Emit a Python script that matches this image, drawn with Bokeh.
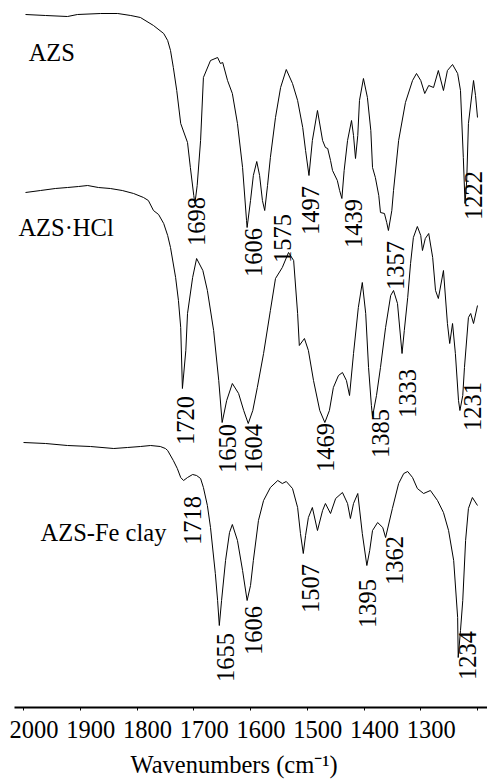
import numpy as np
from bokeh.plotting import figure
from bokeh.models import Range1d, LinearAxis, FixedTicker, Title, ColumnDataSource
from bokeh.core.properties import value
from bokeh.embed import file_html
from bokeh.resources import INLINE

# ---------------- data (wavenumber, transmittance in arbitrary offset units) ----------------
azs_wn = [1996.5, 1961, 1922.5, 1905, 1864, 1834, 1811, 1794, 1771, 1753, 1746, 1741, 1736, 1730,
          1723, 1711, 1706, 1700, 1698, 1694, 1688, 1683, 1670.5, 1658, 1653, 1649, 1640.5, 1632,
          1623, 1614, 1607, 1606, 1600, 1595, 1589, 1584, 1579, 1575, 1570, 1565, 1556, 1547,
          1537, 1526, 1517, 1508, 1503, 1497, 1491, 1482, 1473, 1468, 1464, 1459, 1455.5, 1447,
          1443, 1439, 1435, 1429, 1422, 1418.5, 1415, 1411, 1408, 1401, 1394, 1388, 1385, 1380,
          1374, 1371, 1364, 1360, 1357, 1351, 1348, 1339, 1327, 1314.5, 1307.5, 1300, 1293, 1286,
          1277.5, 1269, 1260, 1253, 1244, 1235, 1230, 1225, 1222, 1219, 1216, 1207, 1203.5, 1200]
azs_t = [693, 692, 691, 693, 694, 694, 692, 690, 682, 674, 667, 657, 640, 617,
         584, 565, 540, 512, 504, 522, 567, 630, 647, 650, 644, 645, 627, 614,
         584, 540, 487, 480, 507, 532, 546, 532, 507, 497, 522, 550, 590, 620,
         638, 624, 607, 580, 557, 532, 567, 597, 567, 560, 559, 547, 537, 527,
         517, 509, 537, 567, 587, 572, 549, 572, 607, 629, 610, 577, 540, 530,
         512, 495, 494, 485, 477, 497, 517, 567, 605, 627, 634, 627, 614, 622,
         620, 637, 617, 637, 643, 634, 617, 550, 504, 527, 584, 627, 612, 590]

hcl_wn = [1996.5, 1970, 1944, 1922.5, 1903, 1887, 1868, 1847, 1826, 1806, 1788.5, 1780, 1771, 1762,
          1753, 1746, 1741, 1732, 1727, 1723, 1720, 1714, 1711, 1702, 1695, 1684, 1676, 1665,
          1656, 1650, 1642, 1632, 1621, 1612, 1604, 1596, 1588, 1577, 1565, 1556, 1544, 1533,
          1524, 1517, 1514, 1505, 1498, 1489, 1478, 1469, 1461, 1454, 1445, 1438, 1431, 1425.5,
          1418.5, 1410, 1403, 1397, 1392, 1387, 1385, 1378, 1371, 1362, 1353, 1348, 1341, 1333,
          1329, 1323, 1318, 1313, 1306, 1300, 1297, 1292, 1286, 1279, 1274, 1269, 1260, 1253,
          1249, 1244, 1239, 1233.5, 1231, 1226, 1223, 1216, 1212, 1207, 1200]
hcl_t = [515, 517, 519, 520, 521, 522, 520, 519, 517, 514, 510, 507, 497, 493,
         484, 472, 460, 430, 407, 380, 319, 357, 394, 430, 449, 437, 417, 377,
         327, 285, 307, 324, 314, 297, 284, 297, 320, 354, 397, 429, 440, 455,
         447, 394, 362, 369, 357, 327, 297, 285, 297, 320, 332, 335, 327, 312,
         354, 400, 425, 394, 340, 302, 291, 312, 340, 380, 412, 417, 404, 354,
         377, 410, 444, 470, 481, 472, 457, 469, 474, 450, 417, 409, 437, 384,
         364, 384, 354, 307, 297, 312, 340, 390, 394, 384, 402]

fe_wn = [2000, 1961, 1922.5, 1882, 1841, 1817, 1794, 1776, 1759, 1750, 1746, 1736, 1729, 1723,
         1718, 1711, 1702, 1695, 1688, 1683, 1676, 1670.5, 1662, 1658, 1655, 1651, 1644, 1637,
         1632, 1623, 1614, 1606, 1600, 1595, 1586, 1577, 1565, 1552, 1544, 1537, 1526, 1517,
         1512, 1507, 1503, 1498, 1491, 1482, 1473, 1468, 1459, 1450, 1438, 1429, 1424, 1418.5,
         1411, 1403, 1395, 1390, 1385, 1376, 1367, 1362, 1350, 1339, 1330, 1323, 1314.5, 1306,
         1295, 1283, 1270.5, 1260, 1251, 1242, 1235, 1234, 1230, 1226, 1221, 1216, 1209, 1200]
fe_t = [265, 264, 262, 261, 259, 260, 261, 262, 261, 259, 257, 247, 239, 230,
        227, 230, 233, 232, 229, 220, 202, 180, 134, 107, 82, 107, 147, 175,
        183, 167, 137, 107, 122, 147, 187, 207, 220, 227, 224, 226, 219, 200,
        174, 154, 172, 190, 200, 177, 197, 204, 194, 209, 215, 204, 189, 204,
        214, 174, 142, 157, 177, 185, 180, 170, 199, 224, 234, 236, 230, 219,
        214, 217, 207, 195, 177, 147, 90, 50, 77, 107, 167, 199, 210, 202]

# peak annotations: text, and placement (wavenumber, transmittance units)
azs_peaks = ["1698", "1606", "1575", "1497", "1439", "1357", "1222"]
azs_peak_x = [1695, 1595, 1544, 1494, 1418.5, 1344.5, 1207]
azs_peak_y = [486, 455, 469, 497, 484, 442, 512]

hcl_peaks = ["1720", "1650", "1604", "1469", "1385", "1333", "1231"]
hcl_peak_x = [1714.5, 1640.5, 1595, 1468, 1371, 1323, 1208]
hcl_peak_y = [287, 259, 259, 260, 274, 314, 301]

fe_peaks = ["1718", "1655", "1606", "1507", "1395", "1362", "1234"]
fe_peak_x = [1702, 1644, 1595, 1494, 1394, 1346, 1218]
fe_peak_y = [187, 50, 77, 119, 104, 147, 52]

series_names = ["AZS", "AZS\u00b7HCl", "AZS-Fe clay"]
name_x = [1991, 2009, 1970]
name_y = [655.5, 480.5, 175.5]

tick_values = [2000, 1900, 1800, 1700, 1600, 1500, 1400, 1300, 1200]
tick_labels = [2000, 1900, 1800, 1700, 1600, 1500, 1400, 1300]
x_title = "Wavenumbers (cm\u207b\u00b9)"

FONT = "Liberation Serif"
FS = "24.5px"

x0, x1 = 2015.9, 1182.4
p = figure(frame_width=473, frame_height=699, output_backend="svg", toolbar_location=None,
           x_range=Range1d(x0, x1), y_range=Range1d(0, 699),
           y_axis_location=None,
           min_border_left=14, min_border_right=0, min_border_top=8, min_border_bottom=72)
p.grid.visible = False
p.outline_line_color = None
p.background_fill_color = "white"
p.border_fill_color = "white"

for wn, t in [(azs_wn, azs_t), (hcl_wn, hcl_t), (fe_wn, fe_t)]:
    p.line(wn, t, line_color="black", line_width=1)

for txt, xs, ys in [(azs_peaks, azs_peak_x, azs_peak_y),
                    (hcl_peaks, hcl_peak_x, hcl_peak_y),
                    (fe_peaks, fe_peak_x, fe_peak_y)]:
    src = ColumnDataSource(dict(x=xs, y=ys, text=txt))
    p.text(x="x", y="y", text="text", source=src, angle=np.pi / 2,
           text_align="center", text_baseline="middle",
           text_font=value(FONT), text_font_size=FS, text_color="black")

p.text(x=name_x, y=name_y, text=series_names, text_align="left", text_baseline="middle",
       text_font=value(FONT), text_font_size=FS, text_color="black")

ax = p.xaxis[0]
ax.ticker = FixedTicker(ticks=tick_values)
ax.major_label_overrides = {v: "" for v in tick_values}
ax.major_label_text_font_size = "0px"
ax.major_label_standoff = 0
ax.axis_line_width = 2
ax.axis_line_color = "black"
ax.major_tick_out = 3
ax.major_tick_in = 0
ax.major_tick_line_color = "black"
ax.minor_tick_out = 0
ax.minor_tick_in = 0

shift = 18.5
p.extra_x_ranges = {"lab": Range1d(x0 + shift, x1 + shift)}
ax2 = LinearAxis(x_range_name="lab", ticker=FixedTicker(ticks=tick_labels),
                 axis_line_color=None, major_tick_line_color=None, minor_tick_line_color=None,
                 major_tick_out=0, major_tick_in=0, minor_tick_out=0, minor_tick_in=0,
                 major_label_text_font=FONT, major_label_text_font_size=FS,
                 major_label_text_color="black", major_label_standoff=10)
p.add_layout(ax2, "below")

p.add_layout(Title(text=x_title, align="left", offset=116, text_font=FONT,
                   text_font_size=FS, text_font_style="normal", text_color="black",
                   standoff=16), "below")

open("out.html", "w").write(file_html(p, INLINE))
